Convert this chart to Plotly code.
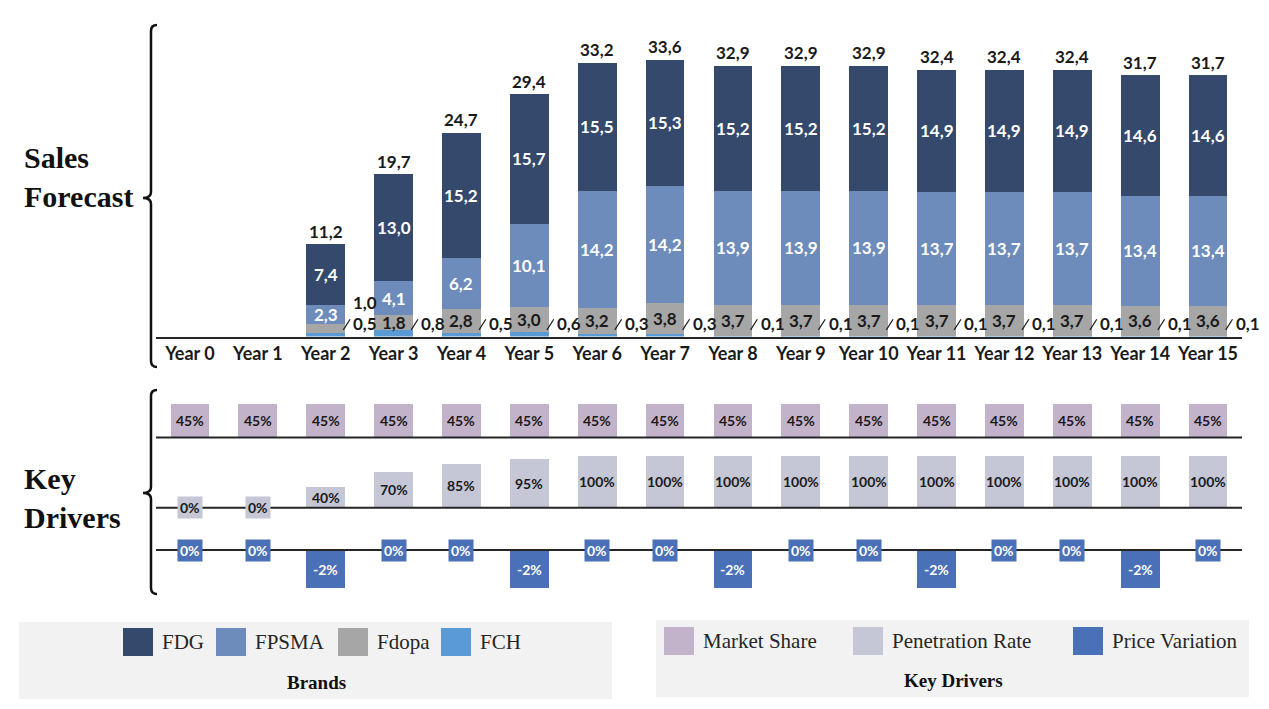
import plotly.graph_objects as go

W, H = 1269, 709

# ---- data -------------------------------------------------------------
years = ["Year 0", "Year 1", "Year 2", "Year 3", "Year 4", "Year 5", "Year 6", "Year 7",
         "Year 8", "Year 9", "Year 10", "Year 11", "Year 12", "Year 13", "Year 14", "Year 15"]

fdg   = [0, 0, 7.4, 13.0, 15.2, 15.7, 15.5, 15.3, 15.2, 15.2, 15.2, 14.9, 14.9, 14.9, 14.6, 14.6]
fpsma = [0, 0, 2.3, 4.1, 6.2, 10.1, 14.2, 14.2, 13.9, 13.9, 13.9, 13.7, 13.7, 13.7, 13.4, 13.4]
fdopa = [0, 0, 1.0, 1.8, 2.8, 3.0, 3.2, 3.8, 3.7, 3.7, 3.7, 3.7, 3.7, 3.7, 3.6, 3.6]
fch   = [0, 0, 0.5, 0.8, 0.5, 0.6, 0.3, 0.3, 0.1, 0.1, 0.1, 0.1, 0.1, 0.1, 0.1, 0.1]

market_share = [45, 45, 45, 45, 45, 45, 45, 45, 45, 45, 45, 45, 45, 45, 45, 45]
penetration  = [0, 0, 40, 70, 85, 95, 100, 100, 100, 100, 100, 100, 100, 100, 100, 100]
price_var    = [0, 0, -2, 0, 0, -2, 0, 0, -2, 0, 0, -2, 0, 0, -2, 0]

brand_names  = ["FDG", "FPSMA", "Fdopa", "FCH"]
driver_names = ["Market Share", "Penetration Rate", "Price Variation"]

# ---- styling ----------------------------------------------------------
C_FDG, C_FPSMA, C_FDOPA, C_FCH = "#34496b", "#6d8cbb", "#a6a6a6", "#5b9bd5"
C_MS, C_PEN, C_PRICE = "#c3b3ca", "#c5c7d6", "#4a70b7"
INK = "#1a1a1a"
SANS = "Lato"
SERIF = "Liberation Serif"
BAR_W = 0.57

idx = list(range(len(years)))


def fx(px):
    return px / W


def fy(py):
    return 1 - py / H


def num(v):
    return f"{v:.1f}".replace(".", ",")


X_DOM = [fx(156), fx(1242)]

fig = go.Figure()

# ---- stacked sales bars (bottom to top) ----------------------------------
for vals, color in [(fch, C_FCH), (fdopa, C_FDOPA), (fpsma, C_FPSMA), (fdg, C_FDG)]:
    fig.add_trace(go.Bar(x=idx, y=vals, width=BAR_W, marker=dict(color=color, line_width=0),
                         xaxis="x", yaxis="y", showlegend=False, hoverinfo="skip"))

# ---- key driver rows ---------------------------------------------------
fig.add_trace(go.Bar(x=idx, y=market_share, width=BAR_W, marker=dict(color=C_MS, line_width=0),
                     xaxis="x2", yaxis="y2", showlegend=False, hoverinfo="skip"))
fig.add_trace(go.Bar(x=idx, y=penetration, width=BAR_W, marker=dict(color=C_PEN, line_width=0),
                     xaxis="x3", yaxis="y3", showlegend=False, hoverinfo="skip"))
fig.add_trace(go.Bar(x=idx, y=price_var, width=BAR_W, marker=dict(color=C_PRICE, line_width=0),
                     xaxis="x4", yaxis="y4", showlegend=False, hoverinfo="skip"))

ann = []
shapes = []


def lbl(x, y, text, color=INK, size=17, xref="x", yref="y", **kw):
    d = dict(x=x, y=y, xref=xref, yref=yref, text=text, showarrow=False,
             font=dict(family=SANS, size=size, color=color, weight="bold"))
    d.update(kw)
    ann.append(d)


# sales labels
for i in idx:
    total = fch[i] + fdopa[i] + fpsma[i] + fdg[i]
    if total == 0:
        continue
    base_fpsma = fch[i] + fdopa[i]
    base_fdg = base_fpsma + fpsma[i]
    lbl(i, base_fdg + fdg[i] / 2, num(fdg[i]), color="white")
    lbl(i, base_fpsma + fpsma[i] / 2, num(fpsma[i]), color="white")
    if fdopa[i] >= 1.5:
        lbl(i, fch[i] + fdopa[i] / 2, num(fdopa[i]))
    else:
        lbl(i + 0.38, 4.1, num(fdopa[i]), xanchor="left")
    lbl(i, total, num(round(total, 1)), yanchor="middle", yshift=13)
    # FCH value sits beside the bar with a short slanted leader
    shapes.append(dict(type="line", xref="x", yref="y", x0=i + 0.26, y0=0.8,
                       x1=i + 0.36, y1=2.1, line=dict(color=INK, width=1.2)))
    lbl(i + 0.38, 1.6, num(fch[i]), xanchor="left")

# key driver labels
for i in idx:
    v = market_share[i]
    lbl(i, v / 2, f"{v}%", size=14, xref="x2", yref="y2")
    v = penetration[i]
    if v > 0:
        lbl(i, v / 2, f"{v}%", size=14, xref="x3", yref="y3")
    else:
        lbl(i, 0, f"{v}%", size=14, xref="x3", yref="y3", bgcolor=C_PEN, borderpad=2)
    v = price_var[i]
    if v < 0:
        lbl(i, v / 2, f"{v}%", size=14, color="white", xref="x4", yref="y4")
    else:
        lbl(i, 0, f"{v}%", size=14, color="white", xref="x4", yref="y4",
            bgcolor=C_PRICE, borderpad=2)

# baselines of the driver rows
for k in ("2", "3", "4"):
    shapes.append(dict(type="line", xref=f"x{k} domain", yref=f"y{k}", x0=0, x1=1, y0=0, y1=0,
                       line=dict(color="#262626", width=2), layer="above"))


# ---- curly braces --------------------------------------------------------
def brace(ytop, ytip, ybot, xv=151, xtip=143, xend=157, r=6):
    pts = [
        ("M", [(xend, ytop)]),
        ("Q", [(xv, ytop), (xv, ytop + r)]),
        ("L", [(xv, ytip - r)]),
        ("Q", [(xv, ytip), (xtip, ytip)]),
        ("Q", [(xv, ytip), (xv, ytip + r)]),
        ("L", [(xv, ybot - r)]),
        ("Q", [(xv, ybot), (xend, ybot)]),
    ]
    path = " ".join(cmd + " " + " ".join(f"{fx(a):.5f},{fy(b):.5f}" for a, b in p) for cmd, p in pts)
    return dict(type="path", xref="paper", yref="paper", path=path,
                line=dict(color="#111111", width=2.5))


shapes.append(brace(25, 198, 367))
shapes.append(brace(390, 493, 594))

for text, yc in [("Sales<br>Forecast", 177.5), ("Key<br>Drivers", 497.5)]:
    ann.append(dict(x=fx(22), y=fy(yc), xref="paper", yref="paper", xanchor="left",
                    yanchor="middle", align="left", showarrow=False, text=text,
                    font=dict(family=SERIF, size=30, color="#111111", weight="bold")))

# ---- legend panels -------------------------------------------------------
panels = [
    dict(x0=19, x1=612, y0=622, y1=699, title="Brands", tx=316, ty=682, yc=642,
         items=list(zip(brand_names, [C_FDG, C_FPSMA, C_FDOPA, C_FCH], [123, 216, 338, 441]))),
    dict(x0=656, x1=1249, y0=620, y1=697, title="Key Drivers", tx=953, ty=680, yc=641,
         items=list(zip(driver_names, [C_MS, C_PEN, C_PRICE], [664, 853, 1073]))),
]
for p in panels:
    shapes.append(dict(type="rect", xref="paper", yref="paper", x0=fx(p["x0"]), x1=fx(p["x1"]),
                       y0=fy(p["y1"]), y1=fy(p["y0"]), fillcolor="#f2f2f2", line_width=0,
                       layer="below"))
    for name, color, sx in p["items"]:
        shapes.append(dict(type="rect", xref="paper", yref="paper", x0=fx(sx), x1=fx(sx + 30),
                           y0=fy(p["yc"] + 14), y1=fy(p["yc"] - 14), fillcolor=color,
                           line_width=0))
        ann.append(dict(x=fx(sx + 37), y=fy(p["yc"]), xref="paper", yref="paper",
                        xanchor="left", yanchor="middle", showarrow=False, text=name,
                        font=dict(family=SERIF, size=21, color="#262626")))
    ann.append(dict(x=fx(p["tx"]), y=fy(p["ty"]), xref="paper", yref="paper", xanchor="center",
                    yanchor="middle", showarrow=False, text=p["title"],
                    font=dict(family=SERIF, size=19, color="#111111", weight="bold")))


# ---- axes ----------------------------------------------------------------
def ydom(base_px, scale, lo, hi):
    return [fy(base_px - lo * scale), fy(base_px - hi * scale)]


hidden_x = dict(domain=X_DOM, range=[-0.5, 15.5], visible=False, fixedrange=True)

fig.update_layout(
    width=W, height=H, margin=dict(l=0, r=0, t=0, b=0),
    paper_bgcolor="white", plot_bgcolor="rgba(0,0,0,0)",
    barmode="stack", bargap=0,
    xaxis=dict(domain=X_DOM, range=[-0.5, 15.5], tickvals=idx, ticktext=years,
               showline=True, linecolor="#262626", linewidth=2, ticks="", showgrid=False,
               zeroline=False, ticklabelstandoff=0, anchor="y",
               tickfont=dict(family=SANS, size=18, color=INK, weight="bold")),
    yaxis=dict(domain=ydom(336.5, 8.24, 0, 36), range=[0, 36], visible=False, anchor="x"),
    xaxis2=dict(hidden_x, anchor="y2"),
    yaxis2=dict(domain=ydom(437.5, 0.749, -6, 50), range=[-6, 50], visible=False, anchor="x2"),
    xaxis3=dict(hidden_x, anchor="y3"),
    yaxis3=dict(domain=ydom(507.7, 0.52, -20, 110), range=[-20, 110], visible=False, anchor="x3"),
    xaxis4=dict(hidden_x, anchor="y4"),
    yaxis4=dict(domain=ydom(550, 19.2, -2.2, 0.6), range=[-2.2, 0.6], visible=False, anchor="x4"),
    annotations=ann,
    shapes=shapes,
)

fig.write_html("out.html", config={"displayModeBar": False})
